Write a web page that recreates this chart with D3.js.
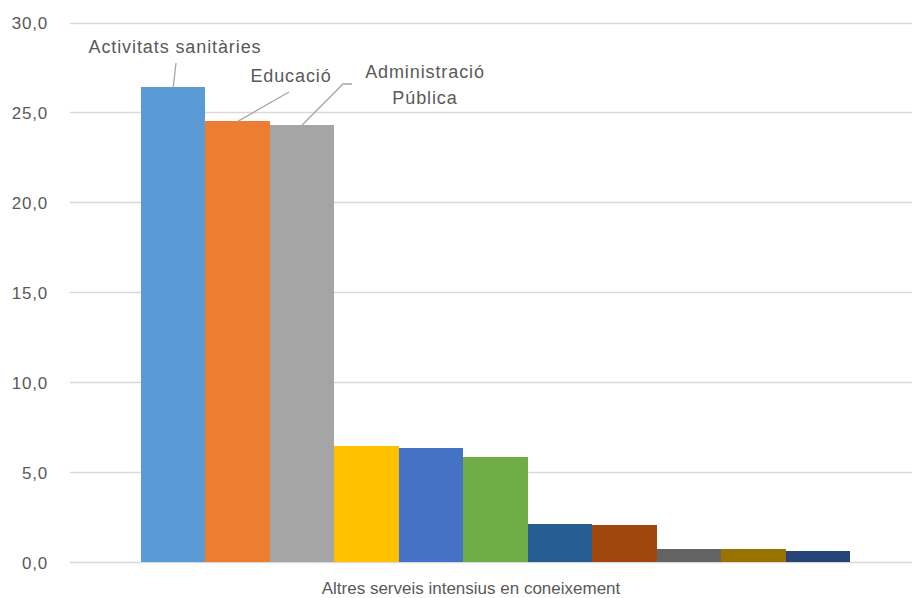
<!DOCTYPE html>
<html>
<head>
<meta charset="utf-8">
<script src="https://cdn.jsdelivr.net/npm/d3@7"></script>
<style>
  body { margin: 0; background: #fff; }
  text { font-family: "Liberation Sans", Arial, sans-serif; fill: #595959; }
</style>
</head>
<body>
<script>
var width = 912,
    height = 598;

var category = "Altres serveis intensius en coneixement";

// one value per series, in drawing order
var values = [26.4, 24.5, 24.3, 6.45, 6.35, 5.85, 2.1, 2.05, 0.72, 0.72, 0.62];
var labels = ["Activitats sanitàries", "Educació", "Administració\nPública",
              null, null, null, null, null, null, null, null];
var colors = ["#5b9bd5", "#ed7d31", "#a5a5a5", "#ffc000", "#4472c4", "#70ad47",
              "#255e91", "#9e480e", "#636363", "#997300", "#264478"];
var yTicks = [0, 5, 10, 15, 20, 25, 30];

var svg = d3.select("body").append("svg")
    .attr("width", width)
    .attr("height", height);

var y = d3.scaleLinear()
    .domain([0, 30])
    .range([562, 22.5]);

var x0 = d3.scaleBand()
    .domain([category])
    .range([70, 921]);

var x1 = d3.scaleBand()
    .domain(d3.range(values.length))
    .range([71, x0.bandwidth() - 71]);

// gridlines
svg.append("g").selectAll("line")
    .data(yTicks)
    .enter().append("line")
    .attr("x1", 70)
    .attr("x2", width)
    .attr("y1", function(d) { return Math.round(y(d)) + 0.5; })
    .attr("y2", function(d) { return Math.round(y(d)) + 0.5; })
    .attr("stroke", "#d9d9d9")
    .attr("stroke-width", 1.3);

svg.append("g").selectAll("text")
    .data(yTicks)
    .enter().append("text")
    .attr("x", 48)
    .attr("y", function(d) { return y(d) + 6.5; })
    .attr("text-anchor", "end")
    .style("font-size", "17px")
    .style("letter-spacing", "0.8px")
    .text(function(d) { return d3.format(".1f")(d).replace(".", ","); });

var bars = svg.append("g")
    .attr("transform", "translate(" + x0(category) + ",0)");

bars.selectAll("rect")
    .data(values)
    .enter().append("rect")
    .attr("x", function(d, i) { return x1(i); })
    .attr("y", function(d) { return y(d); })
    .attr("width", x1.bandwidth())
    .attr("height", function(d) { return y(0) - y(d); })
    .attr("fill", function(d, i) { return colors[i]; })
    .attr("shape-rendering", "crispEdges");

// data labels with leader lines: leader end points, label centre x, baseline y
var labelLayout = [
  { pts: [[176, 63]], x: 175, y: 53 },
  { pts: [[289, 92]], x: 291, y: 82 },
  { pts: [[343, 84], [352, 84]], x: 425, y: 78 }
];

labelLayout.forEach(function(l, i) {
  var bx = x0(category) + x1(i) + x1.bandwidth() / 2,
      by = y(values[i]);
  svg.append("path")
      .attr("d", d3.line()([[bx, by]].concat(l.pts)))
      .attr("fill", "none")
      .attr("stroke", "#a6a6a6")
      .attr("stroke-width", 1.3);
  var t = svg.append("text")
      .attr("x", l.x)
      .attr("y", l.y)
      .attr("text-anchor", "middle")
      .style("font-size", "18px")
      .style("letter-spacing", "0.9px");
  labels[i].split("\n").forEach(function(s, k) {
    t.append("tspan")
        .attr("x", l.x)
        .attr("dy", k ? 26 : 0)
        .text(s);
  });
});

svg.append("text")
    .attr("x", 471)
    .attr("y", 594)
    .attr("text-anchor", "middle")
    .style("font-size", "17px")
    .text(category);
</script>
</body>
</html>
